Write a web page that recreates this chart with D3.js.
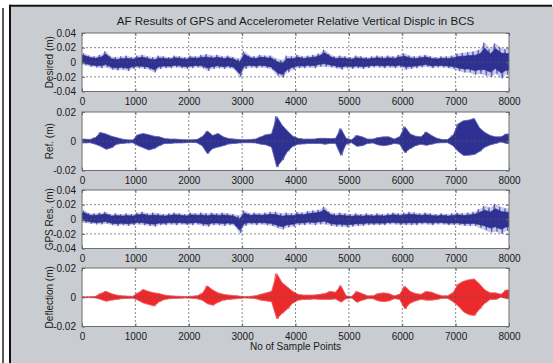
<!DOCTYPE html>
<html><head><meta charset="utf-8">
<script src="https://cdn.jsdelivr.net/npm/d3@7"></script>
<style>
html,body{margin:0;padding:0;background:#fff;}
svg{display:block;}
text{font-family:"Liberation Sans",Arial,Helvetica,sans-serif;fill:#1a1a1a;}
</style></head>
<body>
<script>
// ---- data (envelope per 100-sample bin, values in mm) ----
const binSize = 100;
const xTicks = [0,1000,2000,3000,4000,5000,6000,7000,8000];
const yTicksWide = [0.04,0.02,0,-0.02,-0.04];
const yTicksNarrow = [0.02,0,-0.02];
const title = "AF Results of GPS and Accelerometer Relative Vertical Displc in BCS";
const xLabel = "No of Sample Points";
const yLabels = ["Desired (m)","Ref. (m)","GPS Res. (m)","Deflection (m)"];

const desiredHi = [12,9,8,10,15,8,7,8,9,7, 9,10,8,7,9,8,7,9,8,7, 9,8,10,11,9,10,8,9,7,5, 15,9,8,10,9,9,5,3,9,8, 10,8,9,10,12,17,11,8,9,8, 7,9,8,7,8,9,8,9,8,10, 12,9,8,9,10,8,7,8,8,9, 12,13,14,15,17,27,18,26,20,18];
const desiredLo = [-4,-6,-7,-8,-7,-10,-11,-10,-12,-9, -8,-9,-10,-14,-9,-8,-8,-7,-8,-9, -8,-7,-8,-12,-9,-8,-9,-8,-10,-20, -9,-7,-8,-7,-8,-10,-18,-21,-14,-10, -8,-8,-7,-8,-6,-6,-7,-8,-10,-8, -9,-8,-9,-8,-7,-7,-8,-7,-8,-7, -10,-9,-8,-7,-6,-8,-7,-7,-8,-9, -12,-14,-14,-17,-16,-18,-20,-16,-22,-17];

const refHi = [1.5,1.2,2.5,6,5,3.5,2.5,1.5,1,0.8, 4.5,5.3,4.5,3.5,3,1.8,1.5,1.5,1.2,1, 1,1.2,3,7,4,5.3,3,1.8,1.5,1.2, 1,1.2,1.5,3,4.5,5,17,11,7,3.5, 2,1.5,1.5,1.5,2,2,1.8,2,8.7,2, 1,4,3,1.5,1.5,2.5,3,3,1.5,3, 10,5,3.5,3,6.4,4,2,1.2,1.2,4, 12,14,14.5,15.6,9,6,4,3,3,5];
const refLo = [-1.2,-1,-2,-3.5,-5.5,-4.5,-2,-1.5,-1.2,-1, -3,-4.5,-6,-5,-3,-1.5,-1.5,-1.2,-1.2,-1, -0.8,-1,-3,-8.5,-5,-4,-3,-1.8,-1.5,-1.2, -1,-1,-1.2,-2,-2.5,-4,-17.7,-13,-7,-3.5, -2,-1.8,-1.5,-1.5,-1.5,-2,-1.5,-1.5,-9.7,-2, -1,-3.5,-3,-1.5,-1.2,-2.5,-3,-2.5,-1.5,-2, -7.8,-5,-3,-2,-2.8,-2,-1.2,-1,-1,-3, -7,-9.7,-9.5,-9,-7,-4,-2.5,-1.5,-0.5,-1.5];

const gpsHi = [12,8,8,9,10,7,8,7,8,7, 9,10,8,9,8,7,8,9,8,7, 9,8,9,8,9,8,9,8,7,5, 12,8,9,8,9,10,10,8,9,8, 10,9,11,12,13,17,10,8,9,8, 7,8,7,8,7,8,7,8,9,8, 9,10,9,8,9,8,7,8,7,8, 9,8,9,10,14,18,16,21,17,15];
const gpsLo = [-5,-6,-7,-7,-6,-8,-9,-8,-9,-8, -7,-8,-9,-10,-8,-8,-7,-8,-7,-8, -8,-7,-9,-10,-8,-8,-9,-8,-9,-19, -9,-7,-8,-7,-8,-9,-12,-14,-11,-10, -8,-8,-7,-8,-7,-7,-9,-10,-10,-11, -10,-9,-9,-8,-8,-8,-8,-7,-7,-8, -8,-8,-8,-7,-7,-8,-7,-7,-8,-8, -8,-9,-9,-9,-12,-15,-18,-17,-20,-16];

const deflHi = [0.3,0.3,0.6,2.5,4.1,2.5,1.5,1,0.8,0.6, 3,5.3,4,3,2.5,1.5,1,0.8,0.6,0.5, 0.7,1,2.5,7.8,5,3,2,1.5,1.2,0.8, 0.5,0.6,1,2,3,4,16.2,10,7,4, 2,1.5,1.5,1.5,2,2.5,4,3.5,8,1, 0.5,4,2.5,1,1,2.5,3,2.5,1,2, 7.5,4,2.5,2,4,3.5,2,1,1,3, 9,11,12,12.5,9,5,3,3,2,5];
const deflLo = [-0.3,-0.3,-0.5,-1.5,-2.8,-2,-1.5,-1,-0.8,-0.6, -2,-4,-5,-6,-3,-1.5,-1,-0.8,-0.6,-0.5, -0.7,-1,-2,-4.5,-5.5,-3.5,-2,-1.5,-1.2,-0.8, -0.5,-0.6,-1,-2,-2.5,-3,-14.8,-11,-8,-4, -2,-1.5,-1.5,-1.2,-1.5,-1.5,-1.5,-1.2,-3.3,-1, -0.5,-3.5,-2,-1,-1,-2.5,-3,-2.5,-1,-1.5, -8,-4,-2.5,-1.5,-2,-2,-1.5,-0.8,-0.8,-3, -6,-10,-12,-12.5,-8,-4,-1.5,-1.5,0,-1];

// style per panel: core = share of the envelope drawn in the dense colour
const panels = [
  {hi: desiredHi, lo: desiredLo, lim: 0.04, ticks: yTicksWide, label: yLabels[0], color: "#2e3192", mid: "#6063b6", light: "#c9cae9", core: 0.65},
  {hi: refHi, lo: refLo, lim: 0.02, ticks: yTicksNarrow, label: yLabels[1], color: "#2e3192", mid: "#6a6cb8", light: "#8f91cc", core: 1},
  {hi: gpsHi, lo: gpsLo, lim: 0.04, ticks: yTicksWide, label: yLabels[2], color: "#2e3192", mid: "#6063b6", light: "#c9cae9", core: 0.65},
  {hi: deflHi, lo: deflLo, lim: 0.02, ticks: yTicksNarrow, label: yLabels[3], color: "#ec2a2e", mid: "#f06a6c", light: "#f49a9b", core: 1}
];

// ---- layout ----
const W = 553, H = 363;
const left = 82, right = 509;
const tops = [33, 112, 190, 268];
const ph = 58.5;

const svg = d3.select("body").append("svg").attr("width", W).attr("height", H);
svg.append("rect").attr("width", W).attr("height", H).attr("fill", "#fff");
svg.append("rect").attr("x", 11).attr("y", 6.5).attr("width", W-11).attr("height", H-6.5).attr("fill", "#c9ccd1");
svg.append("line").attr("x1", 3).attr("x2", 3).attr("y1", 8).attr("y2", H).attr("stroke", "#111").attr("stroke-width", 1.4);
svg.append("line").attr("x1", 10).attr("x2", 10).attr("y1", 4.7).attr("y2", H).attr("stroke", "#111").attr("stroke-width", 2);
svg.append("line").attr("x1", 9).attr("x2", 552).attr("y1", 5.7).attr("y2", 5.7).attr("stroke", "#111").attr("stroke-width", 2);

svg.append("text").attr("x", (left+right)/2).attr("y", 24.5).attr("text-anchor", "middle")
  .attr("font-size", 11.6).text(title);

const x = d3.scaleLinear().domain([0, 8000]).range([left, right]);

panels.forEach((p, k) => {
  const top = tops[k], bot = top + ph;
  const y = d3.scaleLinear().domain([-p.lim, p.lim]).range([bot, top]);
  const g = svg.append("g");
  g.append("rect").attr("x", left).attr("y", top).attr("width", right-left).attr("height", ph).attr("fill", "#fff");

  const clipId = "clip" + k;
  g.append("clipPath").attr("id", clipId).append("rect")
    .attr("x", left).attr("y", top).attr("width", right-left).attr("height", ph);
  const dg = g.append("g").attr("clip-path", `url(#${clipId})`);

  const pts = p.hi.map((h, i) => ({s: i*binSize + binSize/2, hi: h/1000, lo: p.lo[i]/1000}));
  pts.unshift({s: 0, hi: pts[0].hi, lo: pts[0].lo});
  pts.push({s: 8000, hi: pts[pts.length-1].hi, lo: pts[pts.length-1].lo});

  // outer envelope (sparse spikes)
  const area = d3.area().x(d => x(d.s)).y0(d => y(d.lo)).y1(d => y(d.hi));
  dg.append("path").attr("d", area(pts)).attr("fill", p.light).attr("stroke", "none");

  // zig-zag trace between the bin extremes
  const zz = [];
  p.hi.forEach((h, i) => {
    zz.push([i*binSize + binSize*0.25, h/1000]);
    zz.push([i*binSize + binSize*0.75, p.lo[i]/1000]);
  });
  const line = d3.line().x(d => x(d[0])).y(d => y(d[1]));
  dg.append("path").attr("d", line(zz)).attr("fill", "none").attr("stroke", p.mid)
    .attr("stroke-width", 1.1).attr("stroke-linejoin", "miter").attr("stroke-miterlimit", 1);

  // dense core of the trace
  const c = p.core;
  const coreArea = d3.area().x(d => x(d.s))
    .y0(d => y((d.hi + d.lo)/2 - c*(d.hi - d.lo)/2))
    .y1(d => y((d.hi + d.lo)/2 + c*(d.hi - d.lo)/2));
  dg.append("path").attr("d", coreArea(pts)).attr("fill", p.color)
    .attr("stroke", c < 1 ? p.color : p.mid).attr("stroke-width", c < 1 ? 0.6 : 0.8);

  // grid (drawn on top, dashed)
  const gg = g.append("g").attr("stroke", "#555").attr("stroke-width", 0.8).attr("stroke-dasharray", "2,2").attr("opacity", 0.85);
  xTicks.slice(1, -1).forEach(t => {
    gg.append("line").attr("x1", x(t)).attr("x2", x(t)).attr("y1", top).attr("y2", bot);
  });
  p.ticks.slice(1, -1).forEach(t => {
    gg.append("line").attr("x1", left).attr("x2", right).attr("y1", y(t)).attr("y2", y(t));
  });

  // axes with inward ticks
  const xa = d3.axisBottom(x).tickValues(xTicks).tickSizeInner(-3).tickSizeOuter(0).tickPadding(6).tickFormat(d3.format("d"));
  const ax = g.append("g").attr("transform", `translate(0,${bot})`).call(xa);
  const ya = d3.axisLeft(y).tickValues(p.ticks).tickSizeInner(-3).tickSizeOuter(0).tickPadding(6).tickFormat(d => d === 0 ? "0" : d3.format(".2f")(d).replace("−", "-"));
  const ay = g.append("g").attr("transform", `translate(${left},0)`).call(ya);
  const xt = d3.axisTop(x).tickValues(xTicks).tickSizeInner(-3).tickSizeOuter(0).tickFormat("");
  const at = g.append("g").attr("transform", `translate(0,${top})`).call(xt);
  const yr = d3.axisRight(y).tickValues(p.ticks).tickSizeInner(-3).tickSizeOuter(0).tickFormat("");
  const ar = g.append("g").attr("transform", `translate(${right},0)`).call(yr);
  [ax, ay, at, ar].forEach(a => {
    a.select(".domain").remove();
    a.selectAll(".tick line").attr("stroke", "#666");
    a.selectAll("text").attr("font-size", 10).attr("fill", "#1a1a1a").attr("font-family", '"Liberation Sans",Arial,sans-serif');
  });
  ax.selectAll("text").attr("dy", "0.71em");

  g.append("rect").attr("x", left).attr("y", top).attr("width", right-left).attr("height", ph)
    .attr("fill", "none").attr("stroke", "#6f6f6f").attr("stroke-width", 1);

  svg.append("text").attr("transform", `translate(52.5,${(top+bot)/2}) rotate(-90)`)
    .attr("text-anchor", "middle").attr("font-size", 10).text(p.label);
});

svg.append("text").attr("x", (left+right)/2).attr("y", 349.5).attr("text-anchor", "middle")
  .attr("font-size", 10).text(xLabel);
</script>
</body></html>
